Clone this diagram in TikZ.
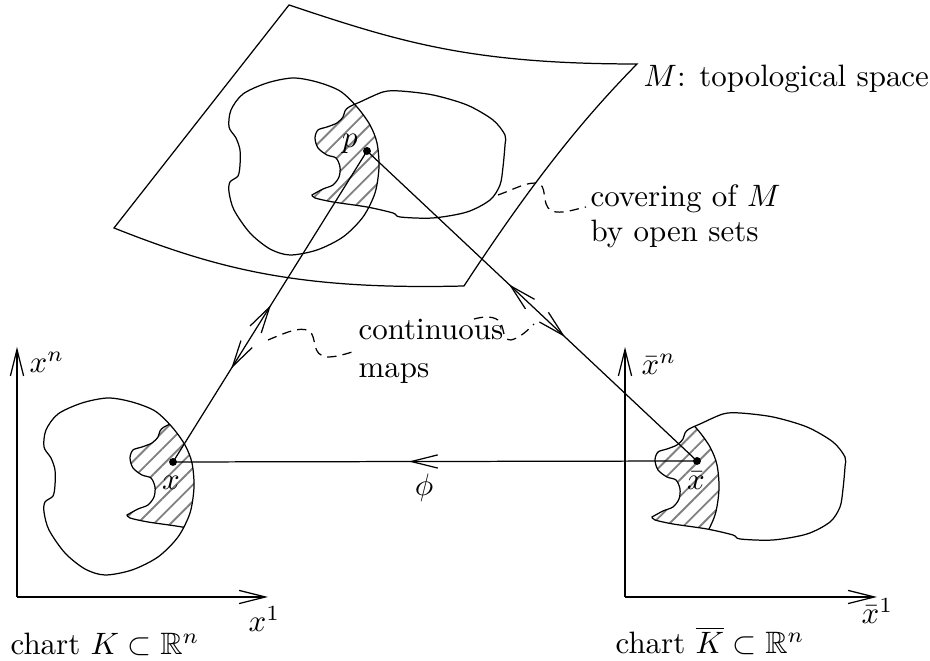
\documentclass[tikz,border=0pt]{standalone}
\usepackage{amssymb}
\usetikzlibrary{arrows.meta,decorations.markings,patterns.meta}

\tikzset{
  >={Straight Barb[length=3mm,width=1.5mm]},
  dot/.style={circle,fill,inner sep=0pt,minimum size=0.9mm},
  lbl/.style={anchor=base west,inner sep=0pt},
  hatch/.style={pattern={Lines[angle=45,distance=3.8pt,line width=0.6pt]},pattern color=gray},
  wiggle/.style={dash pattern=on 3pt off 2pt},
  blobA/.style={insert path={plot[smooth cycle] coordinates {(293,78) (267,83) (243,94) (231,110) (229,127) (236,138) (240,150) (240,165) (238,176) (230,182) (229,192) (234,210) (250,233) (270,249) (290,255) (317,250) (343,237) (363,217) (375,193) (379,167) (377,143) (370,125) (357,107) (340,91) (317,82)}}},
  blobB/.style={insert path={plot[smooth] coordinates {(312,195) (323,189) (333,185) (339,177) (340,167) (336,158) (327,155) (318,148) (315,138) (318,130) (327,127) (337,123) (343,117) (345,111) (349,107) (360,102) (383,92) (400,91) (433,95) (467,105) (493,120) (505,135) (505,145) (503,167) (500,185) (490,200) (467,212) (433,218) (400,217) (393,213) (367,207) (333,202) (315,198) (312,195)} -- cycle}},
  midarrows/.style 2 args={postaction={decorate},decoration={markings,
      mark=at position #1 with {\arrowreversed{>}},
      mark=at position #2 with {\arrow{>}}}},
  onearrow/.style={postaction={decorate},decoration={markings,
      mark=at position #1 with {\arrow{>}}}},
}

\begin{document}
\begin{tikzpicture}[x=0.1136mm, y=-0.1136mm]
\useasboundingbox (0,0) rectangle (930,661);

% the space M
\draw (289,5) .. controls (400,42) and (470,64) .. (637,64)
  .. controls (590,112) and (540,170) .. (464,286)
  .. controls (300,290) and (220,270) .. (114,228) -- cycle;

% two open sets
\begin{scope}
\clip[blobA];
\fill[hatch, blobB];
\end{scope}
\draw[blobA];
\draw[blobB];

% chart K
\begin{scope}[shift={(-185,320)}]
\begin{scope}
\clip[blobA];
\fill[hatch, blobB];
\draw[blobB];
\end{scope}
\draw[blobA];
\end{scope}

% chart Kbar
\begin{scope}[shift={(340,322)}]
\begin{scope}
\clip[blobB];
\fill[hatch, blobA];
\draw[blobA];
\end{scope}
\draw[blobB];
\end{scope}

% axes
\coordinate (o1) at (17,597);
\coordinate (e1) at (268,597);
\coordinate (f1) at (17,347);
\coordinate (o2) at (625,597);
\coordinate (e2) at (877,597);
\coordinate (f2) at (625,347);
\draw[->] (o1) -- (e1);
\draw[->] (o1) -- (f1);
\draw[->] (o2) -- (e2);
\draw[->] (o2) -- (f2);

\node[lbl] (xn) at (29,373) {$x^n$};
\node[lbl] (x1) at (248,632) {$x^1$};
\node[lbl] (xbarn) at (641,375) {$\bar{x}^n$};
\node[lbl] (xbar1) at (861,624) {$\bar{x}^1$};

% points and maps
\node[dot] (p) at (367,151) {};
\node[dot] (x) at (173,462) {};
\node[dot] (xbar) at (697,461) {};
\node[inner sep=0pt] (plabel) at (350,144) {$p$};
\node[inner sep=0pt] (xlabel) at (171,483) {$x$};
\node[inner sep=0pt] (xbarlabel) at (696,481) {$\bar{x}$};

\draw[midarrows={0.495}{0.70}] (p.center) -- (x.center);
\draw[midarrows={0.43}{0.60}] (p.center) -- (xbar.center);
\draw[onearrow=0.55] (xbar.center) -- (x.center);
\node[inner sep=0pt] (phi) at (424,488) {$\phi$};

% comments
\draw[wiggle] (498,195) .. controls (515,189) and (530,180) .. (540,184)
  .. controls (548,190) and (540,210) .. (556,212)
  .. controls (566,213) and (576,209) .. (586,207);
\draw[wiggle] (268,340) .. controls (285,333) and (300,326) .. (309,331)
  .. controls (318,337) and (310,356) .. (328,357)
  .. controls (338,357) and (348,353) .. (356,351);
\draw[wiggle] (474,319) .. controls (485,316) and (495,316) .. (500,322)
  .. controls (505,330) and (502,340) .. (511,340)
  .. controls (520,338) and (528,330) .. (534,324);

\node[lbl] (mspace) at (643,87) {$M$: topological space};
\node[lbl] (cover1) at (590,207) {covering of $M$};
\node[lbl] (cover2) at (590,242) {by open sets};
\node[lbl] (maps1) at (358,340) {continuous};
\node[lbl] (maps2) at (358,378) {maps};
\node[lbl] (chartK) at (10,655) {chart $K\subset\mathbb{R}^n$};
\node[lbl] (chartKbar) at (615,654) {chart $\overline{K}\subset\mathbb{R}^n$};

\end{tikzpicture}
\end{document}
